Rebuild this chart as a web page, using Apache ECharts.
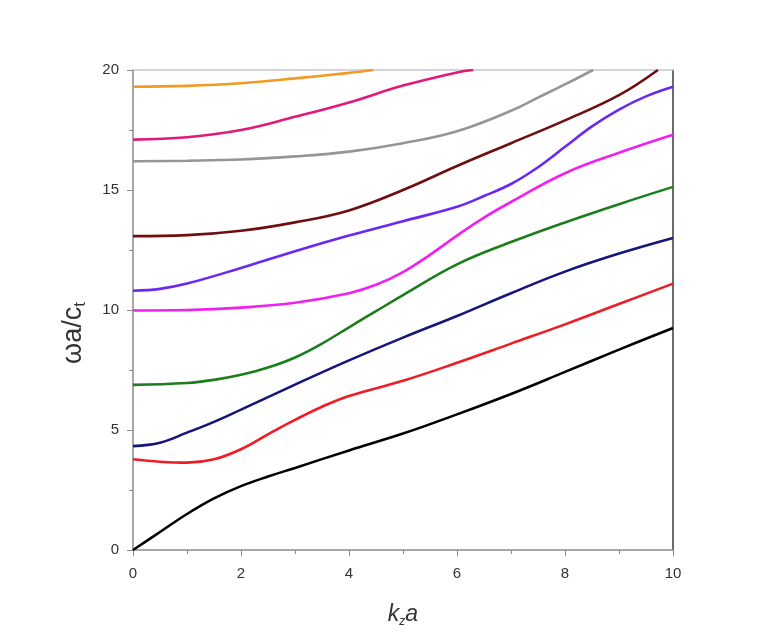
<!DOCTYPE html>
<html>
<head>
<meta charset="utf-8">
<script src="https://cdn.jsdelivr.net/npm/echarts@6/dist/echarts.min.js"></script>
<style>
  html, body { margin: 0; padding: 0; background: #fff; }
  #chart { width: 770px; height: 633px; }
</style>
</head>
<body>
<div id="chart"></div>
<script>
// dispersion branches, kz*a -> omega*a/ct
const black   = [[0, 0], [0.5, 0.75], [1, 1.5], [1.5, 2.15], [2, 2.66], [2.5, 3.06], [3, 3.42], [4, 4.15], [5, 4.85], [6, 5.65], [7, 6.5], [8, 7.42], [9, 8.35], [10, 9.25]];
const red     = [[0, 3.78], [0.5, 3.68], [1, 3.64], [1.5, 3.78], [2, 4.2], [2.5, 4.82], [3, 5.42], [3.5, 5.97], [4, 6.42], [5, 7.05], [6, 7.8], [7, 8.6], [8, 9.4], [9, 10.25], [10, 11.1]];
const navy    = [[0, 4.33], [0.5, 4.47], [1, 4.89], [1.5, 5.34], [2, 5.85], [3, 6.89], [4, 7.9], [5, 8.85], [6, 9.75], [7, 10.7], [8, 11.6], [9, 12.35], [10, 13.0]];
const green   = [[0, 6.88], [1, 6.96], [1.5, 7.09], [2, 7.3], [2.5, 7.6], [3, 8.02], [3.5, 8.6], [4, 9.28], [4.5, 9.95], [5, 10.62], [6, 11.9], [7, 12.83], [8, 13.65], [9, 14.41], [10, 15.13]];
const magenta = [[0, 9.98], [1, 10.0], [2, 10.1], [3, 10.3], [4, 10.7], [4.5, 11.05], [5, 11.58], [5.5, 12.3], [6, 13.1], [6.5, 13.85], [7, 14.5], [8, 15.7], [9, 16.55], [10, 17.3]];
const violet  = [[0, 10.8], [0.5, 10.88], [1, 11.1], [2, 11.75], [3, 12.45], [4, 13.1], [5, 13.7], [6, 14.3], [6.5, 14.75], [7, 15.25], [7.5, 15.95], [8, 16.8], [8.5, 17.65], [9, 18.35], [9.5, 18.9], [10, 19.3]];
const maroon  = [[0, 13.08], [1, 13.12], [2, 13.3], [3, 13.65], [4, 14.15], [5, 15.0], [6, 16.0], [7, 16.95], [8, 17.9], [9, 18.95], [9.72, 20]];
const grey    = [[0, 16.2], [1, 16.22], [2, 16.27], [3, 16.4], [4, 16.6], [5, 16.95], [6, 17.45], [7, 18.3], [7.5, 18.85], [8, 19.4], [8.52, 20]];
const pink    = [[0, 17.1], [1, 17.2], [2, 17.5], [3, 18.05], [4, 18.65], [5, 19.35], [6, 19.9], [6.3, 20]];
const orange  = [[0, 19.3], [1, 19.34], [2, 19.45], [3, 19.65], [4, 19.88], [4.45, 20]];

const branches = [
    { data: black, color: '#000000' },
    { data: red, color: '#ee1c24' },
    { data: navy, color: '#15157a' },
    { data: green, color: '#1b7d1b' },
    { data: magenta, color: '#f020f0' },
    { data: violet, color: '#6a28f0' },
    { data: maroon, color: '#6e0e0e' },
    { data: grey, color: '#959595' },
    { data: pink, color: '#e2197a' },
    { data: orange, color: '#f29a22' }
];

const chart = echarts.init(document.getElementById('chart'));

const font = 'Liberation Sans, Arial, sans-serif';
const labelStyle = { color: '#333', fontSize: 15, fontFamily: font };

const option = {
    backgroundColor: '#fff',
    animation: false,
    grid: { left: 133, top: 70, right: 97, bottom: 80 },
    xAxis: [
        {
            type: 'value',
            min: 0,
            max: 10,
            interval: 2,
            position: 'bottom',
            axisLine: { show: true, onZero: false, lineStyle: { color: '#8a8a8a', width: 1.5 } },
            axisTick: { show: true, length: 6, lineStyle: { color: '#8a8a8a' } },
            minorTick: { show: true, splitNumber: 2, length: 4, lineStyle: { color: '#8a8a8a' } },
            splitLine: { show: false },
            axisLabel: Object.assign({ margin: 16 }, labelStyle),
            name: '{k|k}{z|z}{a|a}',
            nameLocation: 'middle',
            nameGap: 52,
            nameTextStyle: {
                rich: {
                    k: { fontSize: 23, fontStyle: 'italic', color: '#333', fontFamily: font },
                    z: { fontSize: 12, fontStyle: 'italic', color: '#333', fontFamily: font, verticalAlign: 'bottom', padding: [14, 0, 0, 0] },
                    a: { fontSize: 23, fontStyle: 'italic', color: '#333', fontFamily: font }
                }
            }
        },
        {
            type: 'value',
            min: 0,
            max: 10,
            position: 'top',
            axisLine: { show: true, onZero: false, lineStyle: { color: '#c4c8d0', width: 1.5 } },
            axisTick: { show: false },
            axisLabel: { show: false },
            splitLine: { show: false }
        }
    ],
    yAxis: [
        {
            type: 'value',
            min: 0,
            max: 20,
            interval: 5,
            position: 'left',
            axisLine: { show: true, onZero: false, lineStyle: { color: '#8a8a8a', width: 1.5 } },
            axisTick: { show: true, length: 6, lineStyle: { color: '#8a8a8a' } },
            minorTick: { show: true, splitNumber: 2, length: 4, lineStyle: { color: '#8a8a8a' } },
            splitLine: { show: false },
            axisLabel: Object.assign({ margin: 14 }, labelStyle),
            name: '{w|ωa/c}{t|t}',
            nameLocation: 'middle',
            nameRotate: 90,
            nameGap: 44,
            nameTextStyle: {
                padding: [0, 46, 0, 0],
                rich: {
                    w: { fontSize: 27, color: '#333', fontFamily: font },
                    t: { fontSize: 17, color: '#333', fontFamily: font, padding: [14, 0, 0, 0] }
                }
            }
        },
        {
            type: 'value',
            min: 0,
            max: 20,
            position: 'right',
            axisLine: { show: true, onZero: false, lineStyle: { color: '#3a3a3a', width: 1.5 } },
            axisTick: { show: false },
            axisLabel: { show: false },
            splitLine: { show: false }
        }
    ],
    series: branches.map(b => ({
        type: 'line',
        data: b.data,
        smooth: 0.4,
        showSymbol: false,
        clip: true,
        lineStyle: { color: b.color, width: 2.6 },
        itemStyle: { color: b.color }
    }))
};

chart.setOption(option);
</script>
</body>
</html>
